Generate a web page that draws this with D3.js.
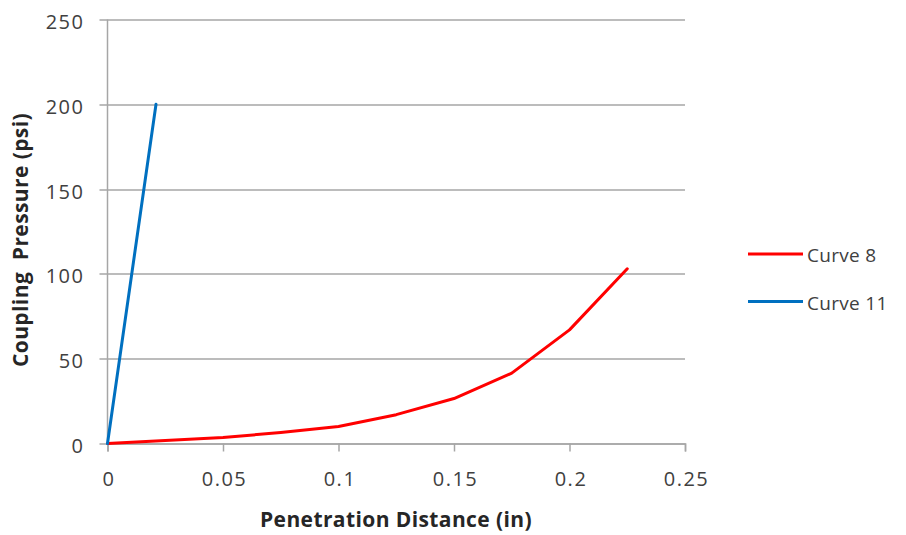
<!DOCTYPE html>
<html>
<head>
<meta charset="utf-8">
<script src="https://cdn.jsdelivr.net/npm/d3@7"></script>
<style>
  body { margin: 0; background: #fff; }
  text { font-family: "Open Sans", "Noto Sans", sans-serif; fill: #404040; }
</style>
</head>
<body>
<svg id="chart" width="906" height="535"></svg>
<script>
// data
var seriesNames = ['Curve 8', 'Curve 11'];
var curve8X = [0, 0.025, 0.05, 0.075, 0.1, 0.125, 0.15, 0.175, 0.2, 0.225];
var curve8Y = [0, 1.8, 3.5, 6.5, 10, 17, 26.5, 41.5, 67, 103];
var curve11X = [0, 0.021];
var curve11Y = [0, 200];
var xTicks = [0, 0.05, 0.1, 0.15, 0.2, 0.25];
var yTicks = [0, 50, 100, 150, 200, 250];
var colors = ['#ff0000', '#0070c0'];

var svg = d3.select('#chart');
var margin = {top: 19.5, left: 107.5, right: 221, bottom: 91.5};
var width = 906 - margin.left - margin.right;
var height = 535 - margin.top - margin.bottom;

var x = d3.scaleLinear().domain([0, 0.25]).range([0, width]);
var y = d3.scaleLinear().domain([0, 250]).range([height, 0]);

var g = svg.append('g')
    .attr('transform', 'translate(' + margin.left + ',' + margin.top + ')');

// horizontal gridlines (with left tick stub)
g.selectAll('line.grid')
    .data(yTicks)
    .enter().append('line')
        .attr('class', 'grid')
        .attr('x1', -8)
        .attr('x2', width)
        .attr('y1', function(d){ return Math.round(y(d)) + 0.5; })
        .attr('y2', function(d){ return Math.round(y(d)) + 0.5; })
        .style('stroke', '#a6a6a6')
        .style('stroke-width', 1.5);

// y axis line
g.append('line')
    .attr('x1', 0).attr('x2', 0)
    .attr('y1', 0).attr('y2', height)
    .style('stroke', '#a6a6a6')
    .style('stroke-width', 1.5);

var xAxis = d3.axisBottom(x).tickValues(xTicks).tickSize(8).tickPadding(20)
    .tickFormat(function(d){ return String(d); });
var yAxis = d3.axisLeft(y).tickValues(yTicks).tickSize(0).tickPadding(23);

var xg = g.append('g')
    .attr('transform', 'translate(0,' + height + ')')
    .call(xAxis);
xg.select('.domain').style('stroke', '#a6a6a6').style('stroke-width', 1.5);
xg.selectAll('.tick line').style('stroke', '#a6a6a6').style('stroke-width', 1.5);
xg.selectAll('text')
    .attr('dx', '1px')
    .style('font-size', '20px')
    .style('letter-spacing', '1.5px')
    .style('font-family', '"Open Sans", sans-serif')
    .style('fill', '#404040');

var yg = g.append('g').call(yAxis);
yg.select('.domain').remove();
yg.selectAll('text')
    .attr('dy', '0.45em')
    .style('font-size', '20px')
    .style('letter-spacing', '1.5px')
    .style('font-family', '"Open Sans", sans-serif')
    .style('fill', '#404040');

// series
var line = d3.line()
    .x(function(d){ return x(d[0]); })
    .y(function(d){ return y(d[1]); });

var series = [
    d3.zip(curve8X, curve8Y),
    d3.zip(curve11X, curve11Y)
];

g.selectAll('path.series')
    .data(series)
    .enter().append('path')
        .attr('class', 'series')
        .attr('d', line)
        .style('fill', 'none')
        .style('stroke', function(d, i){ return colors[i]; })
        .style('stroke-width', 3)
        .style('stroke-linejoin', 'round')
        .style('stroke-linecap', 'round');

// axis titles
svg.append('text')
    .attr('x', 396)
    .attr('y', 527)
    .attr('text-anchor', 'middle')
    .style('font-size', '21px')
    .style('letter-spacing', '0.4px')
    .style('font-weight', 'bold')
    .style('fill', '#262626')
    .text('Penetration Distance (in)');

svg.append('text')
    .attr('transform', 'translate(28,240) rotate(-90)')
    .attr('text-anchor', 'middle')
    .style('font-size', '21px')
    .style('letter-spacing', '0.4px')
    .style('font-weight', 'bold')
    .style('fill', '#262626')
    .style('white-space', 'pre')
    .text('Coupling  Pressure (psi)');

// legend
var legend = svg.append('g').attr('transform', 'translate(748,254)');
var items = legend.selectAll('g.item')
    .data(seriesNames)
    .enter().append('g')
        .attr('class', 'item')
        .attr('transform', function(d, i){ return 'translate(0,' + (i * 47.5) + ')'; });
items.append('line')
    .attr('x1', 0).attr('x2', 55)
    .style('stroke', function(d, i){ return colors[i]; })
    .style('stroke-width', 3);
items.append('text')
    .attr('x', 59)
    .attr('y', 8)
    .style('font-size', '19px')
    .style('letter-spacing', '0.3px')
    .text(function(d){ return d; });
</script>
</body>
</html>
